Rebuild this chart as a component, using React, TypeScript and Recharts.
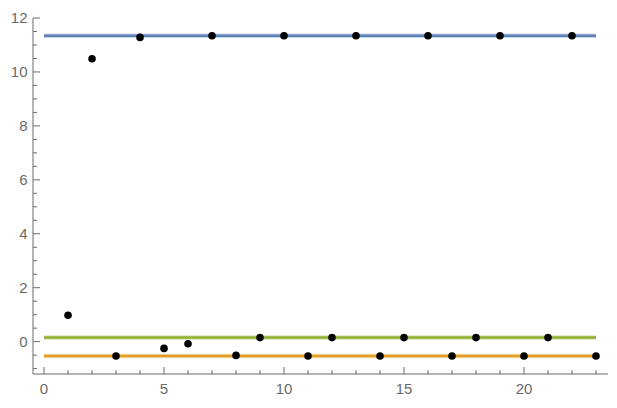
import React from "react";
import { ComposedChart, XAxis, YAxis, Line, Scatter } from "recharts";

const xValues = [1, 2, 3, 4, 5, 6, 7, 8, 9, 10, 11, 12, 13, 14, 15, 16, 17, 18, 19, 20, 21, 22, 23];
const yValues = [0.98, 10.49, -0.53, 11.28, -0.25, -0.08, 11.34, -0.51, 0.15, 11.34, -0.53, 0.15, 11.34, -0.53, 0.15, 11.34, -0.53, 0.15, 11.34, -0.53, 0.15, 11.34, -0.53];

const lineX = [0, 23];
const blueLevel = 11.34;
const greenLevel = 0.15;
const orangeLevel = -0.53;

const xTicks = Array.from({ length: 24 }, (_, i) => i);
const xMajor = [0, 5, 10, 15, 20];
const yTicks = Array.from({ length: 27 }, (_, i) => -1 + i * 0.5);
const yMajor = [0, 2, 4, 6, 8, 10, 12];

const points = xValues.map((x, i) => ({ x, y: yValues[i] }));
const mkLine = (v: number) => lineX.map((x) => ({ x, y: v }));

const TICK = "#6b6b6b";
const LABEL = "#6a6a6a";
const FONT = "'Liberation Sans', Arial, sans-serif";

const isMajor = (v: number, arr: number[]) => arr.some((m) => Math.abs(m - v) < 1e-6);

const BottomTick = (p: any) => {
  const v = p.payload.value;
  const maj = isMajor(v, xMajor);
  return (
    <g>
      <line x1={p.x} x2={p.x} y1={p.y} y2={p.y - (maj ? 7 : 4)} stroke={TICK} strokeWidth={1} />
      {maj && (
        <text x={p.x} y={p.y + 20} textAnchor="middle" fill={LABEL} fontSize={15} fontFamily={FONT}>
          {v}
        </text>
      )}
    </g>
  );
};
const TopTick = (p: any) => {
  const v = p.payload.value;
  const maj = isMajor(v, xMajor);
  return <line x1={p.x} x2={p.x} y1={p.y} y2={p.y + (maj ? 7 : 4)} stroke={TICK} strokeWidth={1} />;
};
const LeftTick = (p: any) => {
  const v = p.payload.value;
  const maj = isMajor(v, yMajor);
  return (
    <g>
      <line x1={p.x} x2={p.x + (maj ? 7 : 4)} y1={p.y} y2={p.y} stroke={TICK} strokeWidth={1} />
      {maj && (
        <text x={p.x - 5.5} y={p.y + 5.4} textAnchor="end" fill={LABEL} fontSize={15} fontFamily={FONT}>
          {v}
        </text>
      )}
    </g>
  );
};
const RightTick = (p: any) => {
  const v = p.payload.value;
  const maj = isMajor(v, yMajor);
  return <line x1={p.x} x2={p.x - (maj ? 7 : 4)} y1={p.y} y2={p.y} stroke={TICK} strokeWidth={1} />;
};

const Dot = (p: any) => <circle cx={p.cx} cy={p.cy} r={3.8} fill="#000" />;

export default function App() {
  const xDomain: [number, number] = [-0.46, 23.5];
  const yDomain: [number, number] = [-1.2, 12];
  return (
    <div style={{ position: "absolute", left: 0, top: 0, background: "#fff" }}>
      <ComposedChart width={617} height={408} margin={{ top: 18, right: 9, bottom: 0, left: 0 }}>
        <XAxis
          xAxisId="b"
          type="number"
          dataKey="x"
          domain={xDomain}
          ticks={xTicks}
          allowDataOverflow
          height={34}
          stroke={TICK}
          tickSize={0}
          tickMargin={0}
          tickLine={false}
          tick={<BottomTick />}
          interval={0}
        />
        <XAxis
          xAxisId="t"
          orientation="top"
          type="number"
          dataKey="x"
          domain={xDomain}
          ticks={xTicks}
          allowDataOverflow
          height={0}
          stroke={TICK}
          tickSize={0}
          tickMargin={0}
          tickLine={false}
          tick={<TopTick />}
          interval={0}
        />
        <YAxis
          yAxisId="l"
          type="number"
          domain={yDomain}
          ticks={yTicks}
          allowDataOverflow
          width={33}
          stroke={TICK}
          tickSize={0}
          tickMargin={0}
          tickLine={false}
          tick={<LeftTick />}
          interval={0}
        />
        <YAxis
          yAxisId="r"
          orientation="right"
          type="number"
          domain={yDomain}
          ticks={yTicks}
          allowDataOverflow
          width={0}
          stroke={TICK}
          tickSize={0}
          tickMargin={0}
          tickLine={false}
          tick={<RightTick />}
          interval={0}
        />
        <Line xAxisId="b" yAxisId="l" data={mkLine(blueLevel)} dataKey="y" stroke="#5e81b5" strokeOpacity={0.35} strokeWidth={4.5} dot={false} isAnimationActive={false} />
        <Line xAxisId="b" yAxisId="l" data={mkLine(blueLevel)} dataKey="y" stroke="#5e81b5" strokeWidth={2.5} dot={false} isAnimationActive={false} />
        <Line xAxisId="b" yAxisId="l" data={mkLine(greenLevel)} dataKey="y" stroke="#8fb032" strokeOpacity={0.35} strokeWidth={4.5} dot={false} isAnimationActive={false} />
        <Line xAxisId="b" yAxisId="l" data={mkLine(greenLevel)} dataKey="y" stroke="#8fb032" strokeWidth={2.5} dot={false} isAnimationActive={false} />
        <Line xAxisId="b" yAxisId="l" data={mkLine(orangeLevel)} dataKey="y" stroke="#e19c24" strokeOpacity={0.35} strokeWidth={4.5} dot={false} isAnimationActive={false} />
        <Line xAxisId="b" yAxisId="l" data={mkLine(orangeLevel)} dataKey="y" stroke="#e19c24" strokeWidth={2.5} dot={false} isAnimationActive={false} />
        <Scatter xAxisId="b" yAxisId="l" data={points} dataKey="y" shape={<Dot />} isAnimationActive={false} />
      </ComposedChart>
    </div>
  );
}
